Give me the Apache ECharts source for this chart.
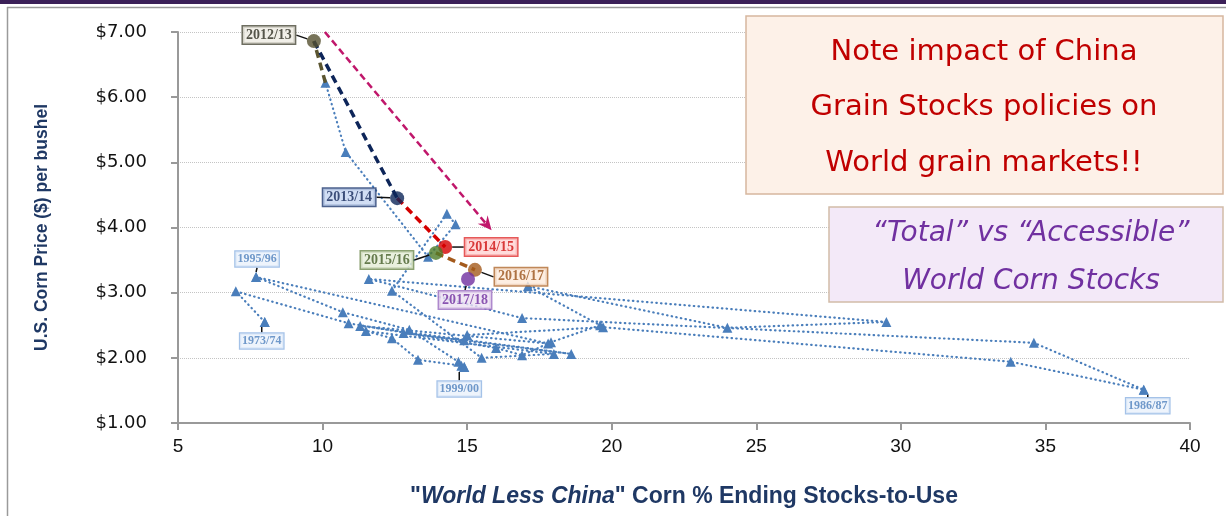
<!DOCTYPE html>
<html><head><meta charset="utf-8">
<script src="https://cdn.jsdelivr.net/npm/echarts@6/dist/echarts.min.js"></script>
<style>html,body{margin:0;padding:0;background:#fff}#c{width:1226px;height:516px}</style>
</head><body><div id="c"></div>
<script>
// ---------- data ----------
const histYears = ['1973/74','1974/75','1975/76','1976/77','1977/78','1978/79','1979/80','1980/81','1981/82','1982/83',
  '1983/84','1984/85','1985/86','1986/87','1987/88','1988/89','1989/90','1990/91','1991/92','1992/93',
  '1993/94','1994/95','1995/96','1996/97','1997/98','1998/99','1999/00','2000/01','2001/02','2002/03',
  '2003/04','2004/05','2005/06','2006/07','2007/08','2008/09','2009/10','2010/11','2011/12'];
const histStocks = [8.0,7.0,10.9,16.0,16.9,17.9,19.6,17.1,24.0,29.5,
  11.6,16.9,34.6,38.4,33.8,19.7,15.0,14.9,12.8,18.6,
  11.3,17.8,7.7,10.7,13.0,14.7,14.9,14.8,13.3,12.4,
  11.5,18.0,15.5,12.4,14.3,14.6,13.65,10.8,10.1];
const histPrices = [2.55,3.02,2.53,2.15,2.04,2.24,2.50,3.10,2.46,2.55,
  3.21,2.61,2.23,1.51,1.94,2.47,2.35,2.27,2.38,2.06,
  2.49,2.22,3.24,2.70,2.43,1.94,1.86,1.88,1.97,2.30,
  2.41,2.06,2.00,3.03,4.21,4.05,3.55,5.16,6.22];
const labeledHistYears = ['1973/74','1995/96','1999/00','1986/87'];

const recentYears = ['2012/13','2013/14','2014/15','2015/16','2016/17','2017/18'];
const recentStocks = [9.70,12.58,14.24,13.92,15.27,15.03];
const recentPrices = [6.86,4.45,3.70,3.61,3.35,3.21];

const arrowFrom = [10.08, 7.0];
const arrowTo = [15.69, 4.04];

const xMin = 5, xMax = 40, xStep = 5;
const yMin = 1, yMax = 7, yStep = 1;

const noteLines = ['Note impact of China', 'Grain Stocks policies on', 'World grain markets!!'];
const accessLines = ['\u201CTotal\u201D vs \u201CAccessible\u201D', 'World Corn Stocks'];

// ---------- styles ----------
const HIST = '#4a7ebb';
const recentStyle = {
  '2012/13': {dot:'#55502f', bg:'#edebe2', border:'#4a4a3a', text:'#2e2e22', dx:-45, dy:-6},
  '2013/14': {dot:'#0d2559', bg:'#c6d6f1', border:'#1f3a70', text:'#14285a', dx:-48, dy:-1},
  '2014/15': {dot:'#d40000', bg:'#ffd2d2', border:'#e03030', text:'#d01010', dx:46, dy:0},
  '2015/16': {dot:'#4e7a28', bg:'#e3ecd6', border:'#6e8a4e', text:'#445e28', dx:-49, dy:7},
  '2016/17': {dot:'#a45a1c', bg:'#fdeadb', border:'#b06a30', text:'#9a531c', dx:46, dy:7},
  '2017/18': {dot:'#7030a0', bg:'#ece0f3', border:'#9a6cc0', text:'#7030a0', dx:-3, dy:21}
};
const histLabelOffset = {'1973/74':[-3,19], '1995/96':[1,-18], '1999/00':[-5,22], '1986/87':[4,16]};
const segs = [
  {from:['2011/12','hist'], to:'2012/13', color:'#5b5530'},
  {from:['2012/13','rec'], to:'2013/14', color:'#0d2559'},
  {from:['2013/14','rec'], to:'2014/15', color:'#d40000'},
  {from:['2015/16','rec'], to:'2016/17', color:'#a45a1c'}
];
const TITLE_FONT = 'Liberation Sans, Arial, sans-serif';
const BOX_FONT = 'DejaVu Sans, Verdana, sans-serif';

// ---------- build ----------
const histData = histYears.map((y,i)=>[histStocks[i], histPrices[i]]);
const labeledData = labeledHistYears.map(y=>{const i=histYears.indexOf(y); return [histStocks[i], histPrices[i]];});
const recData = recentYears.map((y,i)=>({
  value:[recentStocks[i], recentPrices[i]],
  itemStyle:{color:recentStyle[y].dot},
  label:{backgroundColor:recentStyle[y].bg, borderColor:recentStyle[y].border, color:recentStyle[y].text}
}));
function pt(name, kind){
  if(kind==='hist'){const i=histYears.indexOf(name); return [histStocks[i], histPrices[i]];}
  const i=recentYears.indexOf(name); return [recentStocks[i], recentPrices[i]];
}
const segSeries = segs.map(s=>({
  type:'line', data:[pt(s.from[0], s.from[1]), pt(s.to,'rec')], symbol:'none', z:3,
  lineStyle:{color:s.color, width:3.5, type:[8,5]}, silent:true
}));

const chart = echarts.init(document.getElementById('c'), null, {renderer:'canvas'});
chart.setOption({
  animation:false,
  backgroundColor:'#fff',
  grid:{left:178, right:36, top:32, bottom:93, outerBoundsMode:'none', containLabel:false},
  xAxis:{
    type:'value', min:xMin, max:xMax, interval:xStep,
    axisLine:{show:true, onZero:false, lineStyle:{color:'#999', width:2}},
    axisTick:{show:true, length:7, lineStyle:{color:'#999', width:2}},
    splitLine:{show:false},
    axisLabel:{color:'#111', fontSize:19, fontFamily:'Liberation Sans, sans-serif', margin:14},
    name:'{n|"}{i|World Less China}{n|" Corn % Ending Stocks-to-Use}',
    nameLocation:'middle', nameGap:62,
    nameTextStyle:{rich:{
      n:{fontSize:23, fontWeight:'bold', color:'#1f3864', fontFamily:TITLE_FONT},
      i:{fontSize:23, fontWeight:'bold', fontStyle:'italic', color:'#1f3864', fontFamily:TITLE_FONT}
    }}
  },
  yAxis:{
    type:'value', min:yMin, max:yMax, interval:yStep,
    axisLine:{show:true, onZero:false, lineStyle:{color:'#999', width:2}},
    axisTick:{show:true, length:7, lineStyle:{color:'#999', width:2}},
    splitLine:{show:true, lineStyle:{color:'#c4c4c4', width:1, type:[1,1]}},
    axisLabel:{color:'#111', fontSize:18, fontFamily:'DejaVu Sans, sans-serif', margin:31,
      formatter:v=>'$'+v.toFixed(2)},
    name:'U.S. Corn Price ($) per bushel', nameLocation:'middle', nameGap:127, nameRotate:90,
    nameTextStyle:{fontSize:17.5, fontWeight:'bold', color:'#1f3864', fontFamily:TITLE_FONT}
  },
  series:[
    {
      type:'line', data:histData, symbol:'triangle', symbolSize:10, z:2,
      itemStyle:{color:HIST}, lineStyle:{color:HIST, width:2.2, type:[0.5,4.2], cap:'round'},
      silent:true,
      markLine:{
        silent:true, symbol:['none','path://M5,0 L10,10 L5,6.5 L0,10 Z'], symbolSize:[13,14],
        label:{show:false},
        lineStyle:{color:'#c0176b', width:2.5, type:[7,4]},
        data:[[{coord:arrowFrom},{coord:arrowTo}]]
      }
    },
    {
      type:'scatter', data:labeledData, symbol:'triangle', symbolSize:10, z:4, silent:true,
      itemStyle:{color:HIST},
      label:{show:true, position:'inside', formatter:p=>labeledHistYears[p.dataIndex],
        fontFamily:'Liberation Serif, serif', fontWeight:'bold', fontSize:12, color:'#4f81bd',
        backgroundColor:'#eaf1fb', borderColor:'#8db3e2', borderWidth:1.2, padding:[2,2,1,2]},
      labelLine:{show:true, lineStyle:{color:'#111', width:1.5}},
      labelLayout:p=>{const o=histLabelOffset[labeledHistYears[p.dataIndex]]; return {dx:o[0], dy:o[1]};}
    },
    ...segSeries,
    {
      type:'scatter', data:recData, symbol:'circle', symbolSize:14, z:5, silent:true,
      label:{show:true, position:'inside', formatter:p=>recentYears[p.dataIndex],
        fontFamily:'Liberation Serif, serif', fontWeight:'bold', fontSize:14,
        borderWidth:1.5, padding:[2,3,1,3]},
      labelLine:{show:true, lineStyle:{color:'#111', width:1.5}},
      labelLayout:p=>{const s=recentStyle[recentYears[p.dataIndex]]; return {dx:s.dx, dy:s.dy};}
    }
  ],
  graphic:[
    {type:'rect', shape:{x:0,y:0,width:1226,height:4}, style:{fill:'#3b2058'}, z:100, silent:true},
    {type:'line', shape:{x1:7,y1:7.5,x2:1226,y2:7.5}, style:{stroke:'#9a9a9a', lineWidth:1.5}, z:100, silent:true},
    {type:'line', shape:{x1:7.5,y1:7,x2:7.5,y2:516}, style:{stroke:'#9a9a9a', lineWidth:1.5}, z:100, silent:true},
    {type:'rect', shape:{x:746,y:16,width:477,height:178}, style:{fill:'#fdf1e8', stroke:'#d6b79e', lineWidth:1.5}, z:100, silent:true},
    ...noteLines.map((t,i)=>({type:'text', x:984, y:52+i*55.5, z:101, silent:true,
      style:{text:t, fill:'#c00000', fontSize:29, fontFamily:BOX_FONT, align:'center', verticalAlign:'middle'}})),
    {type:'rect', shape:{x:829,y:207,width:394,height:95}, style:{fill:'#f3e9f8', stroke:'#d2bca8', lineWidth:1.5}, z:100, silent:true},
    ...accessLines.map((t,i)=>({type:'text', x:1031, y:234+i*48, z:101, silent:true,
      style:{text:t, fill:'#7030a0', fontSize:28, fontStyle:'italic', fontFamily:BOX_FONT, align:'center', verticalAlign:'middle'}}))
  ]
});
</script></body></html>
